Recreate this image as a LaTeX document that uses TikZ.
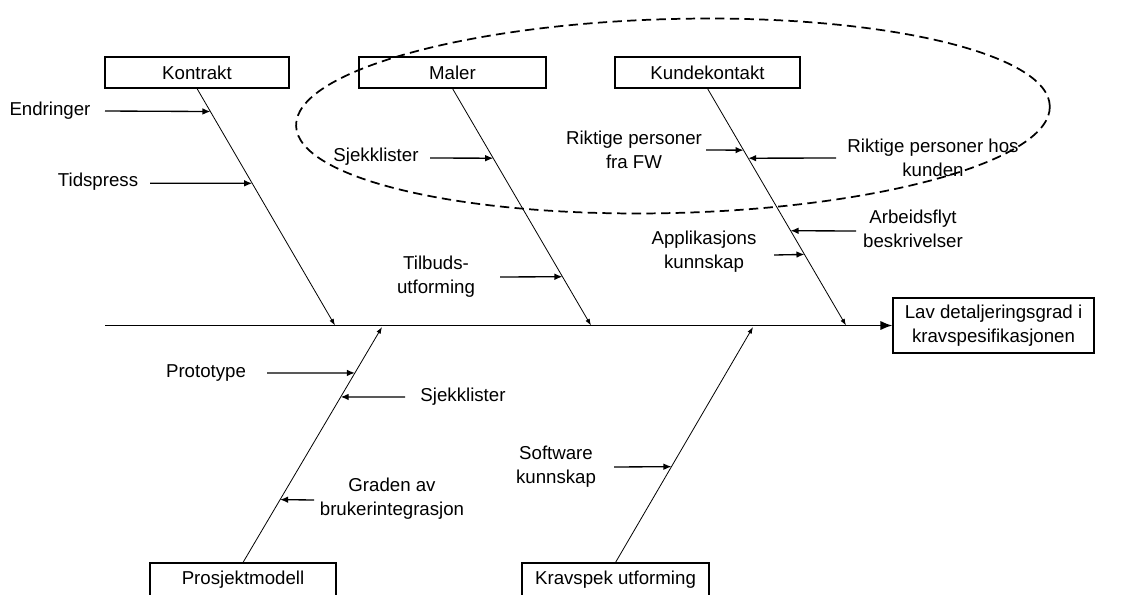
\documentclass[tikz,border=0pt]{standalone}
\usepackage{fontspec}
\setmainfont{Liberation Sans}
\usetikzlibrary{arrows.meta}
\tikzset{
  box/.style={draw,line width=0.8pt,inner sep=0pt,font=\fontsize{14}{18}\selectfont},
  lbl/.style={inner sep=0pt,align=center,font=\fontsize{14}{18}\selectfont},
  bone/.style={line width=0.6pt,-{Latex[length=5pt,width=3.5pt]}},
  cause/.style={line width=1pt,-{Latex[length=6pt,width=5pt]}},
  spine/.style={line width=1.4pt,-{Latex[length=9pt,width=7pt]}}
}

\begin{document}
\begin{tikzpicture}[x=0.75pt,y=-0.75pt]
  \useasboundingbox (0,0) rectangle (1126,594);
  \clip (0,0) rectangle (1126,594);

  %the boxes with the main causes, and the effect
  \node[box,minimum width=138pt,minimum height=23.25pt] (kontrakt) at (197,72.5) {Kontrakt};
  \node[box,minimum width=140.25pt,minimum height=23.25pt] (maler) at (452.5,72.5) {Maler};
  \node[box,minimum width=138.75pt,minimum height=23.25pt] (kunde) at (707.5,72.5) {Kundekontakt};
  \node[box,minimum width=139.5pt,minimum height=25.5pt] (proj) at (243,580) {Prosjektmodell};
  \node[box,minimum width=140.25pt,minimum height=25.5pt] (krav) at (615.5,580) {Kravspek utforming};
  \node[box,align=center,minimum width=150.75pt,minimum height=41.25pt] (effect) at (993.5,325.5) {Lav detaljeringsgrad i\\kravspesifikasjonen};

  %spine of the fish
  \coordinate (tail) at (105,325.5);
  \draw[spine] (tail) -- (effect.west);

  %where the bones hit the spine
  \coordinate (kE) at (335,325.5);
  \coordinate (mE) at (591,325.5);
  \coordinate (uE) at (846,325.5);
  \coordinate (pE) at (382,327);
  \coordinate (sE) at (753,327);

  %the bones
  \draw[bone] (kontrakt.south) -- (kE);
  \draw[bone] (maler.south) -- (mE);
  \draw[bone] (kunde.south) -- (uE);
  \draw[bone] (proj.north) -- (pE);
  \draw[bone] (krav.north) -- (sE);

  %points on the bones where the small arrows end
  \path (kontrakt.south) -- (kE) coordinate[pos=0.097] (k1) coordinate[pos=0.4] (k2);
  \path (maler.south) -- (mE) coordinate[pos=0.294] (m1) coordinate[pos=0.794] (m2);
  \path (kunde.south) -- (uE) coordinate[pos=0.26] (u1) coordinate[pos=0.294] (u2)
                              coordinate[pos=0.6] (u3) coordinate[pos=0.7] (u4);
  \path (proj.north) -- (pE) coordinate[pos=0.805] (p1) coordinate[pos=0.703] (p2) coordinate[pos=0.267] (p3);
  \path (krav.north) -- (sE) coordinate[pos=0.407] (s1);

  %start of the small arrows
  \coordinate (k1s) at (105,111);
  \coordinate (k2s) at (150,183.2);
  \coordinate (m1s) at (430,158);
  \coordinate (m2s) at (500,277);
  \coordinate (u1s) at (706,150);
  \coordinate (u2s) at (836,158);
  \coordinate (u3s) at (856,231);
  \coordinate (u4s) at (774,255);
  \coordinate (p1s) at (267,373);
  \coordinate (p2s) at (405,397);
  \coordinate (p3s) at (314,500);
  \coordinate (s1s) at (614,467);

  \draw[cause] (k1s) -- (k1);
  \draw[cause] (k2s) -- (k2);
  \draw[cause] (m1s) -- (m1);
  \draw[cause] (m2s) -- (m2);
  \draw[cause] (u1s) -- (u1);
  \draw[cause] (u2s) -- (u2);
  \draw[cause] (u3s) -- (u3);
  \draw[cause] (u4s) -- (u4);
  \draw[cause] (p1s) -- (p1);
  \draw[cause] (p2s) -- (p2);
  \draw[cause] (p3s) -- (p3);
  \draw[cause] (s1s) -- (s1);

  %labels of the sub causes
  \node[lbl] (endr) at (50,111) {Endringer};
  \node[lbl] (tids) at (98,182) {Tidspress};
  \node[lbl] (sjekk1) at (376,157) {Sjekklister};
  \node[lbl] (tilb) at (436,277) {Tilbuds-\\utforming};
  \node[lbl] (rfw) at (634,150) {Riktige personer\\fra FW};
  \node[lbl] (rkund) at (933,158) {Riktige personer hos\\kunden};
  \node[lbl] (arb) at (913,229) {Arbeidsflyt\\beskrivelser};
  \node[lbl] (app) at (704,252) {Applikasjons\\kunnskap};
  \node[lbl] (proto) at (206,373) {Prototype};
  \node[lbl] (sjekk2) at (463,397) {Sjekklister};
  \node[lbl] (grad) at (392,499) {Graden av\\brukerintegrasjon};
  \node[lbl] (soft) at (556,467) {Software\\kunnskap};

  %dashed ring round the upper causes
  \coordinate (ring) at (673,116);
  \draw[line width=1.3pt,dash pattern=on 7pt off 4pt,rotate around={1.5:(ring)}]
    (ring) ellipse [x radius=377, y radius=97];
\end{tikzpicture}
\end{document}
